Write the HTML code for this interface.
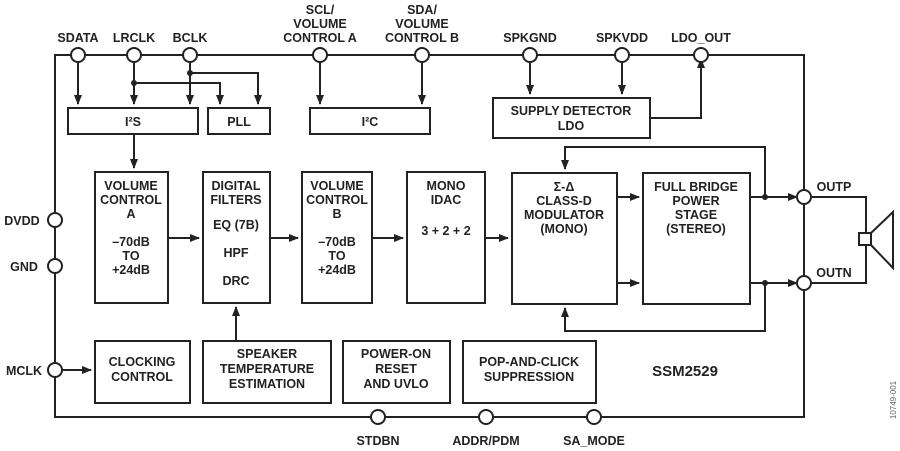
<!DOCTYPE html>
<html><head><meta charset="utf-8"><style>
body{margin:0;background:#fff}
svg{display:block}
text{font-family:"Liberation Sans",Arial,sans-serif;font-weight:bold;font-size:12.5px;fill:#222;text-anchor:middle}
.b{fill:none;stroke:#222;stroke-width:2}
.l{fill:none;stroke:#222;stroke-width:2}
.p{fill:#fff;stroke:#222;stroke-width:2}
</style></head><body>
<svg width="900" height="451" viewBox="0 0 900 451" xmlns="http://www.w3.org/2000/svg">
<defs><marker id="a" markerWidth="10" markerHeight="8" refX="9" refY="4" orient="auto" markerUnits="userSpaceOnUse"><path d="M0,0L10,4L0,8z" fill="#222"/></marker></defs>
<rect x="55" y="55" width="749" height="362" class="b"/>
<!-- top connections -->
<path class="l" d="M78,55V104" marker-end="url(#a)"/>
<path class="l" d="M134,55V104" marker-end="url(#a)"/>
<path class="l" d="M190,55V104" marker-end="url(#a)"/>
<path class="l" d="M134,83H220V104" marker-end="url(#a)"/>
<path class="l" d="M190,73H258V104" marker-end="url(#a)"/>
<circle cx="134" cy="83" r="3" fill="#222"/><circle cx="190" cy="73" r="3" fill="#222"/>
<path class="l" d="M320,55V104" marker-end="url(#a)"/>
<path class="l" d="M422,55V104" marker-end="url(#a)"/>
<path class="l" d="M530,55V94" marker-end="url(#a)"/>
<path class="l" d="M622,55V94" marker-end="url(#a)"/>
<path class="l" d="M650,118H701V59" marker-end="url(#a)"/>
<path class="l" d="M134,134V168" marker-end="url(#a)"/>
<!-- boxes -->
<rect x="68" y="108" width="130" height="26" class="b"/><text x="133" y="126">I²S</text>
<rect x="208" y="108" width="62" height="26" class="b"/><text x="239" y="126">PLL</text>
<rect x="310" y="108" width="120" height="26" class="b"/><text x="370" y="126">I²C</text>
<rect x="493" y="98" width="157" height="40" class="b"/><text x="571" y="115">SUPPLY DETECTOR</text><text x="571" y="130">LDO</text>
<rect x="95" y="172" width="73" height="131" class="b"/>
<text x="131" y="190">VOLUME</text><text x="131" y="204">CONTROL</text><text x="131" y="218">A</text><text x="131" y="246">–70dB</text><text x="131" y="260">TO</text><text x="131" y="274">+24dB</text>
<rect x="203" y="172" width="67" height="131" class="b"/>
<text x="236" y="190">DIGITAL</text><text x="236" y="204">FILTERS</text><text x="236" y="229">EQ (7B)</text><text x="236" y="257">HPF</text><text x="236" y="285">DRC</text>
<rect x="302" y="172" width="70" height="131" class="b"/>
<text x="337" y="190">VOLUME</text><text x="337" y="204">CONTROL</text><text x="337" y="218">B</text><text x="337" y="246">–70dB</text><text x="337" y="260">TO</text><text x="337" y="274">+24dB</text>
<rect x="407" y="172" width="78" height="131" class="b"/>
<text x="446" y="190">MONO</text><text x="446" y="204">IDAC</text><text x="446" y="235">3 + 2 + 2</text>
<rect x="512" y="173" width="105" height="131" class="b"/>
<text x="564" y="191">Σ-Δ</text><text x="564" y="205">CLASS-D</text><text x="564" y="219">MODULATOR</text><text x="564" y="233">(MONO)</text>
<rect x="643" y="173" width="107" height="131" class="b"/>
<text x="696" y="191">FULL BRIDGE</text><text x="696" y="205">POWER</text><text x="696" y="219">STAGE</text><text x="696" y="233">(STEREO)</text>
<path class="l" d="M168,238H199" marker-end="url(#a)"/>
<path class="l" d="M270,238H298" marker-end="url(#a)"/>
<path class="l" d="M372,238H403" marker-end="url(#a)"/>
<path class="l" d="M485,238H508" marker-end="url(#a)"/>
<path class="l" d="M617,197H639" marker-end="url(#a)"/>
<path class="l" d="M617,283H639" marker-end="url(#a)"/>
<path class="l" d="M750,197H797" marker-end="url(#a)"/>
<path class="l" d="M750,283H797" marker-end="url(#a)"/>
<path class="l" d="M765,197V147H565V169" marker-end="url(#a)"/>
<path class="l" d="M765,283V331H565V308" marker-end="url(#a)"/>
<circle cx="765" cy="197" r="3" fill="#222"/><circle cx="765" cy="283" r="3" fill="#222"/>
<!-- speaker -->
<path class="l" d="M811,197H866V233M811,283H866V245"/>
<rect x="859" y="233" width="12" height="12" class="b"/>
<path class="l" d="M871,233L893,212V268L871,245"/>
<!-- bottom -->
<rect x="95" y="341" width="95" height="62" class="b"/><text x="142" y="366">CLOCKING</text><text x="142" y="381">CONTROL</text>
<rect x="203" y="341" width="128" height="62" class="b"/><text x="267" y="358">SPEAKER</text><text x="267" y="373">TEMPERATURE</text><text x="267" y="388">ESTIMATION</text>
<rect x="343" y="341" width="107" height="62" class="b"/><text x="396" y="358">POWER-ON</text><text x="396" y="373">RESET</text><text x="396" y="388">AND UVLO</text>
<rect x="463" y="341" width="133" height="62" class="b"/><text x="529" y="366">POP-AND-CLICK</text><text x="529" y="381">SUPPRESSION</text>
<text x="685" y="376" style="font-size:15px">SSM2529</text>
<path class="l" d="M236,341V307" marker-end="url(#a)"/>
<path class="l" d="M62,370H91" marker-end="url(#a)"/>
<!-- pins -->
<g class="p"><circle cx="78" cy="55" r="7"/><circle cx="134" cy="55" r="7"/><circle cx="190" cy="55" r="7"/><circle cx="320" cy="55" r="7"/><circle cx="422" cy="55" r="7"/><circle cx="530" cy="55" r="7"/><circle cx="622" cy="55" r="7"/><circle cx="701" cy="55" r="7"/>
<circle cx="55" cy="220" r="7"/><circle cx="55" cy="266" r="7"/><circle cx="55" cy="370" r="7"/>
<circle cx="804" cy="197" r="7"/><circle cx="804" cy="283" r="7"/>
<circle cx="378" cy="417" r="7"/><circle cx="486" cy="417" r="7"/><circle cx="594" cy="417" r="7"/></g>
<text x="78" y="42">SDATA</text><text x="134" y="42">LRCLK</text><text x="190" y="42">BCLK</text>
<text x="320" y="14">SCL/</text><text x="320" y="28">VOLUME</text><text x="320" y="42">CONTROL A</text>
<text x="422" y="14">SDA/</text><text x="422" y="28">VOLUME</text><text x="422" y="42">CONTROL B</text>
<text x="530" y="42">SPKGND</text><text x="622" y="42">SPKVDD</text><text x="701" y="42">LDO_OUT</text>
<text x="22" y="225">DVDD</text><text x="24" y="271">GND</text><text x="24" y="375">MCLK</text>
<text x="834" y="191">OUTP</text><text x="834" y="277">OUTN</text>
<text x="378" y="445">STDBN</text><text x="486" y="445">ADDR/PDM</text><text x="594" y="445">SA_MODE</text>
<text x="0" y="0" transform="translate(896,400) rotate(-90)" style="font-size:8px;font-weight:normal;fill:#666">10749-001</text>
</svg>
</body></html>
